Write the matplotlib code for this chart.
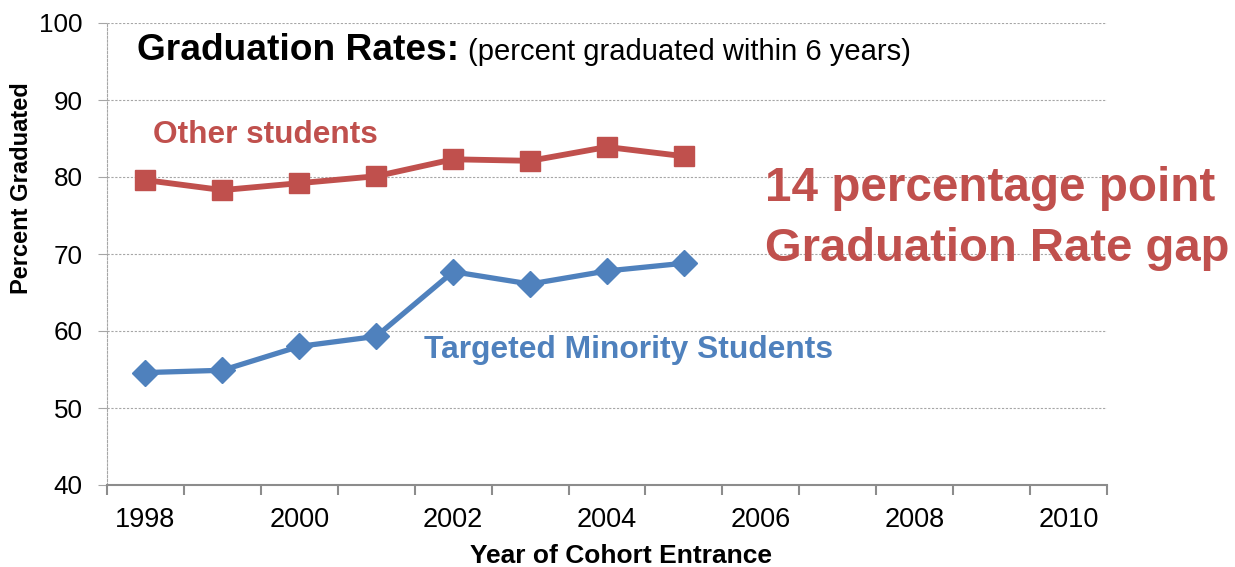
import matplotlib
matplotlib.use("Agg")
import matplotlib.pyplot as plt
import numpy as np

plt.rcParams['font.family'] = ['Liberation Sans', 'DejaVu Sans']

years = [1998, 1999, 2000, 2001, 2002, 2003, 2004, 2005]
other_students = [79.6, 78.3, 79.2, 80.1, 82.3, 82.1, 83.9, 82.7]
minority_students = [54.6, 54.9, 58.0, 59.3, 67.7, 66.1, 67.8, 68.8]
tick_years = [1998, 2000, 2002, 2004, 2006, 2008, 2010]
y_ticks = [40, 50, 60, 70, 80, 90, 100]

RED = '#C0504D'
BLUE = '#4F81BD'
W, H = 1235, 567

fig = plt.figure(figsize=(W / 100, H / 100), dpi=100)
ax = fig.add_axes([107 / W, (H - 485) / H, 1000 / W, 462 / H])

ax.set_xlim(1997.5, 2010.5)
ax.set_ylim(40, 100)

for y in y_ticks[1:]:
    ax.axhline(y, color='#A6A6A6', lw=0.8, ls=(0, (2, 1.5)), zorder=1)

ax.plot(years, other_students, color=RED, lw=4.2, marker='s', ms=14,
        mec=RED, mfc=RED, zorder=3)
ax.plot(years, minority_students, color=BLUE, lw=3.8, marker='D', ms=13,
        mec=BLUE, mfc=BLUE, zorder=3)

for s in ['top', 'right']:
    ax.spines[s].set_visible(False)
ax.spines['left'].set_color('#A6A6A6')
ax.spines['left'].set_linestyle((0, (2, 1.5)))
ax.spines['left'].set_linewidth(0.8)
ax.spines['bottom'].set_color('#8C8C8C')
ax.spines['bottom'].set_linewidth(1.5)

ax.set_yticks(y_ticks)
ax.set_yticklabels([str(v) for v in y_ticks], fontsize=18.7)
ax.tick_params(axis='y', length=6.5, color='#A6A6A6', width=0.8, pad=11)

ax.set_xticks(tick_years)
ax.set_xticklabels([str(v) for v in tick_years], fontsize=19.5)
ax.tick_params(axis='x', length=0, pad=16)
ax.set_xticks(np.arange(1997.5, 2011, 1.0), minor=True)
ax.tick_params(axis='x', which='minor', length=7, color='#8C8C8C', width=1.5)

def ftext(x, y, s, **kw):
    kw.setdefault('ha', 'left')
    kw.setdefault('va', 'baseline')
    fig.text(x / W, 1 - y / H, s, **kw)

ftext(621, 563, 'Year of Cohort Entrance', fontsize=19, fontweight='bold', ha='center')
ftext(22, 188, 'Percent Graduated', fontsize=17, fontweight='bold', ha='center',
      va='center', rotation=90)

ftext(137, 60, 'Graduation Rates:', fontsize=26.7, fontweight='bold', color='black')
ftext(468, 60, '(percent graduated within 6 years)', fontsize=21, color='black')
ftext(153, 143, 'Other students', fontsize=22.8, fontweight='bold', color=RED)
ftext(765, 201, '14 percentage point', fontsize=34.3, fontweight='bold', color=RED)
ftext(765, 261, 'Graduation Rate gap', fontsize=34.0, fontweight='bold', color=RED)
ftext(424, 358, 'Targeted Minority Students', fontsize=22.9, fontweight='bold', color=BLUE)

fig.savefig('out.png', dpi=100)
